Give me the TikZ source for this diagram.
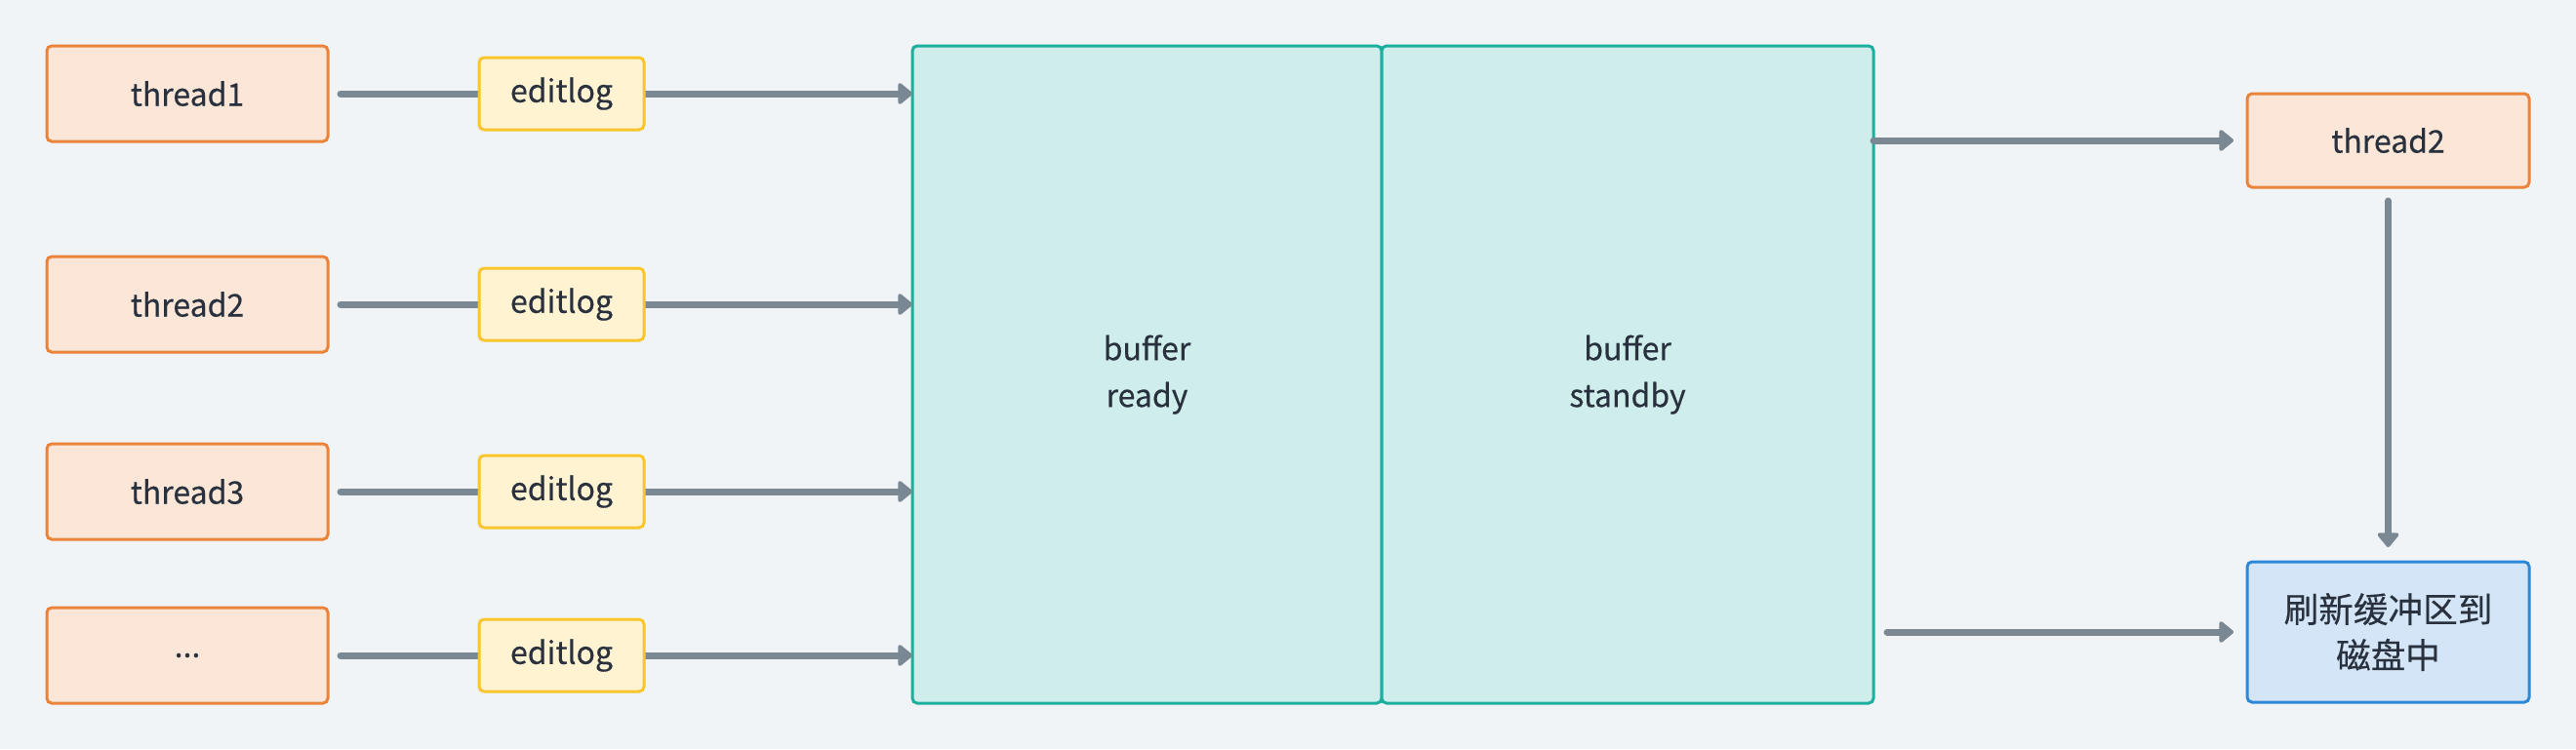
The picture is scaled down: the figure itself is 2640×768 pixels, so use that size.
\documentclass[tikz,border=0pt]{standalone}
\usepackage{fontspec}
\setmainfont{Noto Sans CJK SC}[FakeBold=0.35]
\usetikzlibrary{arrows.meta}
\definecolor{bgc}{HTML}{F1F4F7}
\definecolor{orf}{HTML}{FCE6D8}
\definecolor{ors}{HTML}{EA843A}
\definecolor{yef}{HTML}{FFF3D2}
\definecolor{yes}{HTML}{F8C52B}
\definecolor{tef}{HTML}{CFEDEB}
\definecolor{tes}{HTML}{1CAF9D}
\definecolor{blf}{HTML}{D3E5F6}
\definecolor{bls}{HTML}{2D88D8}
\definecolor{arc}{HTML}{7A8894}
\definecolor{txc}{HTML}{28313D}
\tikzset{
  box/.style={draw, line width=1.5pt, rounded corners=2.5pt, inner sep=0pt, outer sep=0pt,
    text=txc, font=\fontsize{16}{24}\selectfont, align=center},
  thr/.style={box, fill=orf, draw=ors, minimum width=144pt, minimum height=49pt},
  elog/.style={box, fill=yef, draw=yes, minimum width=84.5pt, minimum height=37pt},
  buf/.style={box, fill=tef, draw=tes, minimum height=337pt},
  flushbox/.style={box, fill=blf, draw=bls, minimum width=144.5pt, minimum height=72pt,
    font=\fontsize{17.8}{23.5}\selectfont},
  arr/.style={draw=arc, line width=3.5pt, line cap=round,
    -{Triangle[length=8pt,width=12.5pt,round]}},
}
\begin{document}
\begin{tikzpicture}[x=0.5pt,y=-0.5pt]
\path[fill=bgc] (0,0) rectangle (2640,768);
\useasboundingbox (0,0) rectangle (2640,768);
% threads
\node[thr] (t1) at (192,96) {thread1};
\node[thr] (t2) at (192,312) {thread2};
\node[thr] (t3) at (192,504) {thread3};
\node[thr] (t4) at (192,672) {...};
% buffers
\node[buf, minimum width=240.5pt] (ready) at (1175.5,384) {buffer\\ready};
\node[buf, minimum width=252pt] (standby) at (1668,384) {buffer\\standby};
% right side
\node[thr, minimum width=144.5pt, minimum height=48pt] (rt2) at (2447.5,144) {thread2};
\node[flushbox] (flush) at (2447.5,648) {刷新缓冲区到\\磁盘中};
% arrows thread -> buffer
\foreach \t in {t1,t2,t3,t4}{
  \draw[arr] ([xshift=6.5pt]\t.east) -- (\t.east -| ready.west);
}
% editlog labels
\node[elog] (e1) at (575.5,96) {editlog};
\node[elog] (e2) at (575.5,312) {editlog};
\node[elog] (e3) at (575.5,504) {editlog};
\node[elog] (e4) at (575.5,672) {editlog};
% right arrows
\draw[arr] (standby.east |- rt2.west) -- ([xshift=-7pt]rt2.west);
\draw[arr] ([xshift=7pt]standby.east |- flush.west) -- ([xshift=-7pt]flush.west);
\draw[arr] ([yshift=-7pt]rt2.south) -- ([yshift=7.5pt]flush.north);
\end{tikzpicture}
\end{document}
